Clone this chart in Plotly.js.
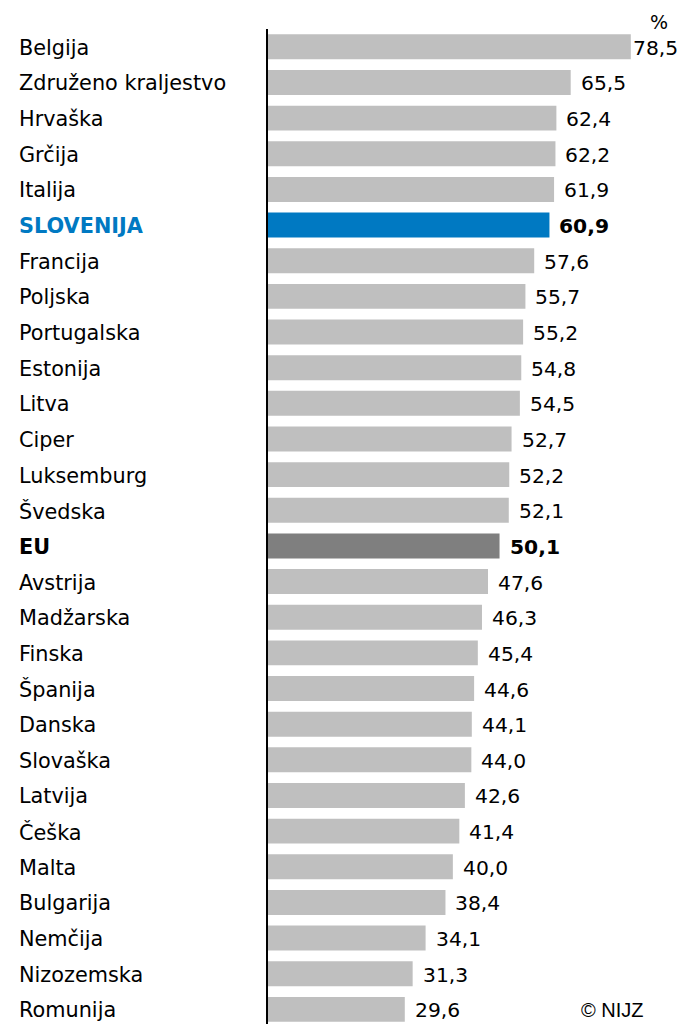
<!DOCTYPE html>
<html>
<head>
<meta charset="utf-8">
<script src="https://cdn.plot.ly/plotly-3.0.1.min.js"></script>
<style>html,body{margin:0;padding:0;background:#fff;}#chart{width:681px;height:1024px;}</style>
</head>
<body>
<div id="chart"></div>
<script>
const countries = ["Belgija","Združeno kraljestvo","Hrvaška","Grčija","Italija","SLOVENIJA","Francija","Poljska","Portugalska","Estonija","Litva","Ciper","Luksemburg","Švedska","EU","Avstrija","Madžarska","Finska","Španija","Danska","Slovaška","Latvija","Češka","Malta","Bulgarija","Nemčija","Nizozemska","Romunija"];
const values = [78.5,65.5,62.4,62.2,61.9,60.9,57.6,55.7,55.2,54.8,54.5,52.7,52.2,52.1,50.1,47.6,46.3,45.4,44.6,44.1,44.0,42.6,41.4,40.0,38.4,34.1,31.3,29.6];
const valueLabels = ["78,5","65,5","62,4","62,2","61,9","60,9","57,6","55,7","55,2","54,8","54,5","52,7","52,2","52,1","50,1","47,6","46,3","45,4","44,6","44,1","44,0","42,6","41,4","40,0","38,4","34,1","31,3","29,6"];
const unitLabel = "%";
const sourceLabel = "© NIJZ";

const FONT = "DejaVu Sans, Noto Sans, sans-serif";
const GREY = "#bfbfbf", BLUE = "#0079c2", DARK = "#7f7f7f";
const colors = countries.map(c => c === "SLOVENIJA" ? BLUE : (c === "EU" ? DARK : GREY));

const annotations = [];
countries.forEach((c, i) => {
  const isSlo = c === "SLOVENIJA", isEU = c === "EU";
  annotations.push({
    xref: "paper", yref: "y", x: 0, y: c, xanchor: "left", xshift: -251, yanchor: "middle", yshift: -1,
    text: (isSlo || isEU) ? "<b>" + c + "</b>" : c, showarrow: false,
    font: {family: FONT, size: 20.8, color: isSlo ? BLUE : "#000"}
  });
  annotations.push({
    xref: "x", yref: "y", x: values[i], y: c, xanchor: "left", yanchor: "middle", yshift: -1,
    xshift: values[i] > 75 ? 0 : 8,
    text: (isSlo || isEU) ? "<b>" + valueLabels[i] + "</b>" : valueLabels[i], showarrow: false,
    font: {family: FONT, size: 20.3, color: "#000"}
  });
});
annotations.push({xref: "paper", yref: "paper", x: 1, y: 1, xanchor: "right", yanchor: "bottom", xshift: -1, yshift: -6,
  text: unitLabel, showarrow: false, font: {family: FONT, size: 19, color: "#000"}});
annotations.push({xref: "paper", yref: "y", x: 1, y: "Romunija", xanchor: "right", yanchor: "middle", xshift: -25, yshift: -1,
  text: sourceLabel, showarrow: false, font: {family: "Liberation Sans Narrow, Liberation Sans, sans-serif", size: 20, color: "#000"}});

Plotly.newPlot("chart", [{
  type: "bar", orientation: "h", x: values, y: countries,
  marker: {color: colors, line: {width: 0}}, width: 0.7, hoverinfo: "none"
}], {
  width: 681, height: 1024,
  margin: {l: 268, r: 10, t: 29, b: 0, pad: 0},
  paper_bgcolor: "#fff", plot_bgcolor: "#fff",
  showlegend: false,
  xaxis: {range: [0, 87.2], showgrid: false, zeroline: false, showticklabels: false, showline: false, ticks: "", fixedrange: true},
  yaxis: {type: "category", range: [27.41, -0.5], autorange: false, showgrid: false, zeroline: false, showticklabels: false,
          showline: true, linecolor: "#000", linewidth: 2, ticks: "", fixedrange: true},
  annotations: annotations
}, {staticPlot: true});
</script>
</body>
</html>
